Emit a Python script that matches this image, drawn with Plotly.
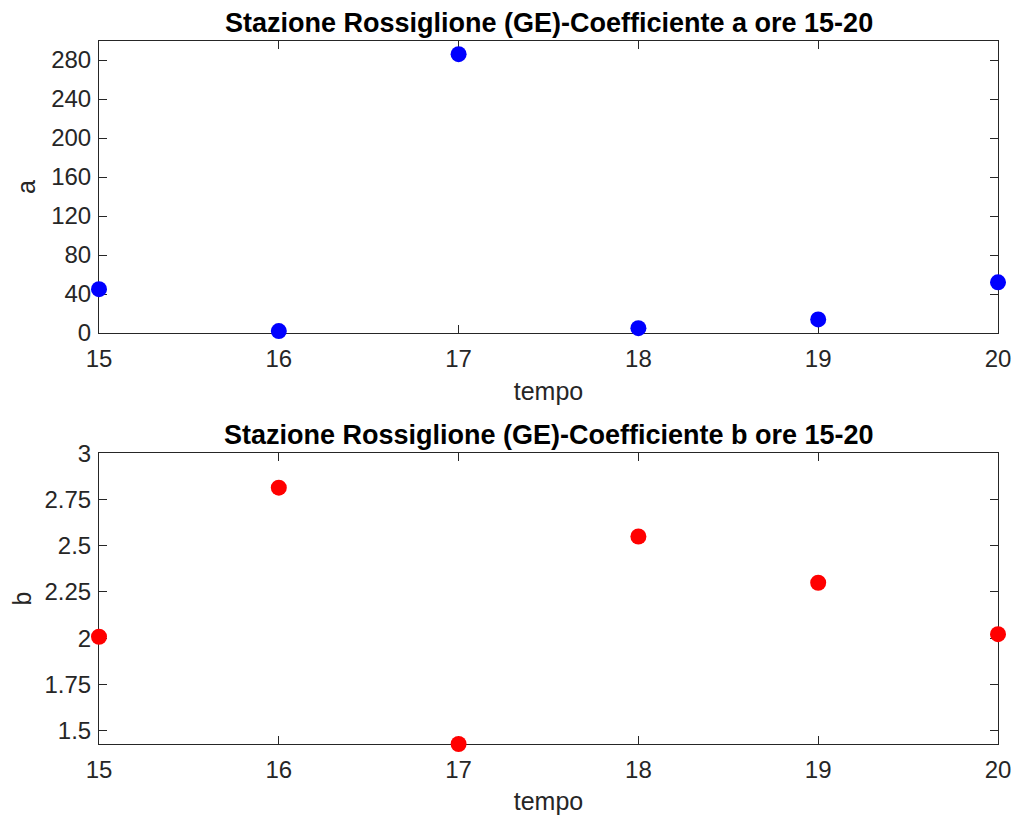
import plotly.graph_objects as go

tempo = [15, 16, 17, 18, 19, 20]
coeff_a = [45, 2, 286, 5, 14, 52]
coeff_b = [2.008, 2.814, 1.428, 2.55, 2.30, 2.022]

title_a = "Stazione Rossiglione (GE)-Coefficiente a ore 15-20"
title_b = "Stazione Rossiglione (GE)-Coefficiente b ore 15-20"
a_ticks = [0, 40, 80, 120, 160, 200, 240, 280]
b_ticks = [1.5, 1.75, 2, 2.25, 2.5, 2.75, 3]
b_ticktext = ["1.5", "1.75", "2", "2.25", "2.5", "2.75", "3"]

FONT = "Liberation Sans, Arial, Helvetica, sans-serif"
AX = "#262626"
TICK_SIZE = 24
LABEL_SIZE = 25
TITLE_SIZE = 27

fig = go.Figure()
fig.add_trace(go.Scatter(x=tempo, y=coeff_a, mode="markers", xaxis="x", yaxis="y",
                         marker=dict(color="#0000FF", size=16), cliponaxis=False,
                         showlegend=False))
fig.add_trace(go.Scatter(x=tempo, y=coeff_b, mode="markers", xaxis="x2", yaxis="y2",
                         marker=dict(color="#FF0000", size=16), cliponaxis=False,
                         showlegend=False))

common_x = dict(range=[15, 20], tickvals=tempo, ticks="inside", ticklen=8,
                tickcolor=AX, showline=True, linecolor=AX, linewidth=1, mirror="ticks",
                showgrid=False, zeroline=False, automargin=False, ticklabelstandoff=4,
                layer="below traces",
                tickfont=dict(family=FONT, size=TICK_SIZE, color=AX))
common_y = dict(ticks="inside", ticklen=8, tickcolor=AX, showline=True, linecolor=AX,
                linewidth=1, mirror="ticks", showgrid=False, zeroline=False,
                automargin=False, ticklabelstandoff=2, layer="below traces",
                tickfont=dict(family=FONT, size=TICK_SIZE, color=AX))

fig.update_layout(
    width=1015, height=821,
    margin=dict(l=99, r=17, t=41, b=77),
    paper_bgcolor="white", plot_bgcolor="white",
    xaxis=dict(domain=[0, 1], anchor="y",
               title=dict(text="tempo", font=dict(family=FONT, size=LABEL_SIZE, color=AX), standoff=11),
               **common_x),
    yaxis=dict(domain=[0.5846, 1], anchor="x", range=[0, 299.5], tickvals=a_ticks,
               title=dict(text="a", font=dict(family=FONT, size=LABEL_SIZE, color=AX), standoff=8),
               **common_y),
    xaxis2=dict(domain=[0, 1], anchor="y2",
                title=dict(text="tempo", font=dict(family=FONT, size=LABEL_SIZE, color=AX), standoff=10),
                **common_x),
    yaxis2=dict(domain=[0, 0.4135], anchor="x2", range=[1.428, 3], tickvals=b_ticks,
                ticktext=b_ticktext,
                title=dict(text="b", font=dict(family=FONT, size=LABEL_SIZE, color=AX), standoff=5),
                **common_y),
    annotations=[
        dict(text="<b>" + title_a + "</b>", xref="paper", yref="paper", x=0.5, y=1,
             yanchor="bottom", yshift=1, showarrow=False,
             font=dict(family=FONT, size=TITLE_SIZE, color="black")),
        dict(text="<b>" + title_b + "</b>", xref="paper", yref="paper", x=0.5, y=0.4135,
             yanchor="bottom", yshift=1, showarrow=False,
             font=dict(family=FONT, size=TITLE_SIZE, color="black")),
    ],
)

fig.write_html("out.html")
